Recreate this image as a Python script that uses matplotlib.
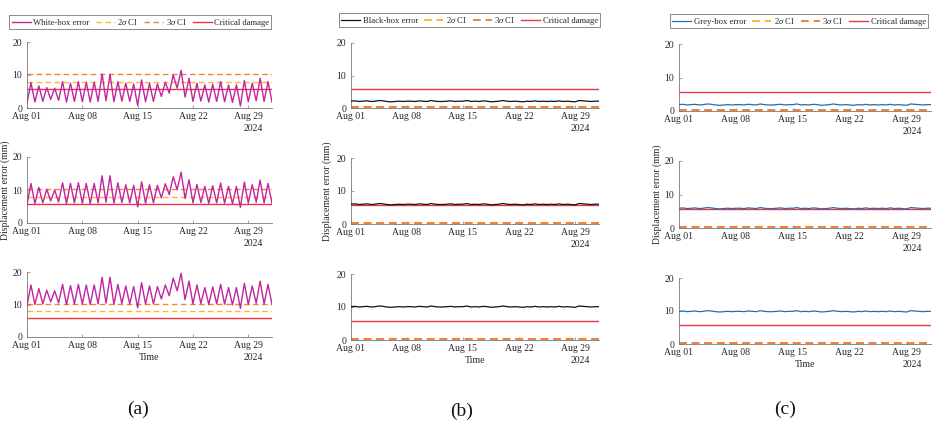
import numpy as np
import matplotlib
matplotlib.use("Agg")
import matplotlib.pyplot as plt
import matplotlib.dates as mdates

plt.rcParams['font.family'] = ['Liberation Serif', 'DejaVu Serif']
plt.rcParams['mathtext.fontset'] = 'custom'
plt.rcParams['mathtext.it'] = 'Liberation Serif:italic'
plt.rcParams['mathtext.rm'] = 'Liberation Serif'

# ---------------- data ----------------
start_date = "2024-08-01"
n_days = 31
tick_dates = ["2024-08-01", "2024-08-08", "2024-08-15", "2024-08-22", "2024-08-29"]
year_label = "2024"
panel_labels = ["(a)", "(b)", "(c)"]
model_names = ["White-box error", "Black-box error", "Grey-box error"]

critical_damage = 5.7
ci2_white, ci3_white = 8.0, 10.2
ci2_bg, ci3_bg = 0.25, 0.38

# White-box: daily troughs (00h) and peaks (12h) for the 3 rows
white_troughs = [
    [1.5, 1.8, 2.0, 2.6, 2.3, 1.8, 2.0, 1.9, 1.8, 2.0, 2.2, 1.9, 2.1, 2.0, 0.8, 1.9,
     2.0, 3.5, 4.5, 6.0, 3.3, 2.0, 2.1, 1.8, 2.0, 1.9, 1.7, 0.6, 1.9, 2.2, 2.0, 1.8],
    [5.6, 5.9, 6.1, 6.7, 6.4, 5.9, 6.1, 6.0, 5.9, 6.1, 6.3, 6.0, 6.2, 6.1, 4.9, 6.0,
     6.1, 7.6, 8.6, 10.1, 7.4, 6.1, 6.2, 5.9, 6.1, 6.0, 5.8, 4.7, 6.0, 6.3, 6.1, 5.9],
    [9.7, 10.0, 10.2, 10.8, 10.5, 10.0, 10.2, 10.1, 10.0, 10.2, 10.4, 10.1, 10.3, 10.2, 9.0, 10.1,
     10.2, 11.7, 12.7, 14.2, 11.5, 10.2, 10.3, 10.0, 10.2, 10.1, 9.9, 8.8, 10.1, 10.4, 10.2, 10.0],
]
white_peaks = [
    [7.7, 6.7, 6.2, 6.0, 8.0, 7.5, 8.0, 7.8, 7.8, 10.3, 10.2, 8.0, 7.5, 7.3, 8.5, 7.5,
     7.3, 7.8, 10.0, 11.4, 9.0, 7.5, 7.0, 7.2, 8.0, 7.0, 7.0, 8.3, 7.5, 9.0, 8.0],
    [12.0, 10.8, 10.2, 10.0, 12.2, 12.0, 12.2, 12.0, 12.0, 14.3, 14.3, 12.2, 11.6, 11.4, 12.5, 11.6,
     11.4, 11.9, 14.0, 15.4, 13.1, 11.7, 11.1, 11.3, 12.1, 11.1, 11.1, 12.4, 11.6, 13.0, 12.0],
    [16.0, 14.9, 14.4, 14.2, 16.2, 15.8, 16.2, 16.0, 16.0, 18.4, 18.4, 16.2, 15.7, 15.5, 16.7, 15.7,
     15.5, 16.0, 18.1, 19.6, 17.2, 16.0, 15.2, 15.4, 16.2, 15.2, 15.2, 16.5, 15.7, 17.2, 16.2],
]

# Black-box: twice-daily readings for the 3 rows
black_vals = [
    [2.1, 2.2, 2.0, 2.1, 2.2, 2.0, 2.1, 2.3, 2.2, 2.0, 1.9, 2.0, 2.1, 2.0, 2.1, 2.1,
     2.0, 2.2, 2.1, 2.0, 2.3, 2.1, 2.0, 2.0, 2.1, 2.2, 2.0, 2.1, 2.1, 2.3, 2.0, 2.1,
     2.0, 2.2, 2.1, 1.9, 2.0, 2.1, 2.3, 2.1, 2.0, 2.1, 2.0, 1.9, 2.1, 2.0, 2.2, 2.0,
     2.1, 2.0, 2.1, 2.0, 2.2, 2.0, 2.1, 2.0, 1.9, 2.3, 2.2, 2.1, 2.0, 2.1, 2.1],
    [6.0, 6.1, 5.9, 6.0, 6.1, 5.9, 6.0, 6.2, 6.1, 5.9, 5.8, 5.9, 6.0, 5.9, 6.0, 6.0,
     5.9, 6.1, 6.0, 5.9, 6.2, 6.0, 5.9, 5.9, 6.0, 6.1, 5.9, 6.0, 6.0, 6.2, 5.9, 6.0,
     5.9, 6.1, 6.0, 5.8, 5.9, 6.0, 6.2, 6.0, 5.9, 6.0, 5.9, 5.8, 6.0, 5.9, 6.1, 5.9,
     6.0, 5.9, 6.0, 5.9, 6.1, 5.9, 6.0, 5.9, 5.8, 6.2, 6.1, 6.0, 5.9, 6.0, 6.0],
    [10.1, 10.2, 10.0, 10.1, 10.2, 10.0, 10.1, 10.3, 10.2, 10.0, 9.9, 10.0, 10.1, 10.0, 10.1, 10.1,
     10.0, 10.2, 10.1, 10.0, 10.3, 10.1, 10.0, 10.0, 10.1, 10.2, 10.0, 10.1, 10.1, 10.3, 10.0, 10.1,
     10.0, 10.2, 10.1, 9.9, 10.0, 10.1, 10.3, 10.1, 10.0, 10.1, 10.0, 9.9, 10.1, 10.0, 10.2, 10.0,
     10.1, 10.0, 10.1, 10.0, 10.2, 10.0, 10.1, 10.0, 9.9, 10.3, 10.2, 10.1, 10.0, 10.1, 10.1],
]
# Grey-box: twice-daily readings for the 3 rows
grey_vals = [
    [1.9, 2.0, 1.8, 1.9, 2.0, 1.8, 1.9, 2.1, 2.0, 1.8, 1.7, 1.8, 1.9, 1.8, 1.9, 1.9,
     1.8, 2.0, 1.9, 1.8, 2.1, 1.9, 1.8, 1.8, 1.9, 2.0, 1.8, 1.9, 1.9, 2.1, 1.8, 1.9,
     1.8, 2.0, 1.9, 1.7, 1.8, 1.9, 2.1, 1.9, 1.8, 1.9, 1.8, 1.7, 1.9, 1.8, 2.0, 1.8,
     1.9, 1.8, 1.9, 1.8, 2.0, 1.8, 1.9, 1.8, 1.7, 2.1, 2.0, 1.9, 1.8, 1.9, 1.9],
    [5.9, 6.0, 5.8, 5.9, 6.0, 5.8, 5.9, 6.1, 6.0, 5.8, 5.7, 5.8, 5.9, 5.8, 5.9, 5.9,
     5.8, 6.0, 5.9, 5.8, 6.1, 5.9, 5.8, 5.8, 5.9, 6.0, 5.8, 5.9, 5.9, 6.1, 5.8, 5.9,
     5.8, 6.0, 5.9, 5.7, 5.8, 5.9, 6.1, 5.9, 5.8, 5.9, 5.8, 5.7, 5.9, 5.8, 6.0, 5.8,
     5.9, 5.8, 5.9, 5.8, 6.0, 5.8, 5.9, 5.8, 5.7, 6.1, 6.0, 5.9, 5.8, 5.9, 5.9],
    [9.9, 10.0, 9.8, 9.9, 10.0, 9.8, 9.9, 10.1, 10.0, 9.8, 9.7, 9.8, 9.9, 9.8, 9.9, 9.9,
     9.8, 10.0, 9.9, 9.8, 10.1, 9.9, 9.8, 9.8, 9.9, 10.0, 9.8, 9.9, 9.9, 10.1, 9.8, 9.9,
     9.8, 10.0, 9.9, 9.7, 9.8, 9.9, 10.1, 9.9, 9.8, 9.9, 9.8, 9.7, 9.9, 9.8, 10.0, 9.8,
     9.9, 9.8, 9.9, 9.8, 10.0, 9.8, 9.9, 9.8, 9.7, 10.1, 10.0, 9.9, 9.8, 9.9, 9.9],
]

# ---------------- styles ----------------
C_WHITE = '#C0269E'
C_BLACK = '#111111'
C_GREY = '#1f6fb4'
C_CI2 = '#FFB52E'
C_CI3 = '#F0823A'
C_CRIT = '#EE3344'
AX_COL = '#777777'
TXT_COL = '#262626'


def times_for(n):
    t0 = np.datetime64(start_date + "T00:00")
    mins = np.round(np.linspace(0, n_days * 24 * 60, n)).astype('int64')
    return t0 + mins.astype('timedelta64[m]')


def interleave(tr, pk):
    v = np.empty(len(tr) + len(pk))
    v[0::2] = tr
    v[1::2] = pk
    return v


W, H = 941, 432
fig = plt.figure(figsize=(W / 100, H / 100), dpi=100)

# axes boxes in pixels: (left, right, [(top, bottom) per row])
col_px = [
    (27, 272, [(42, 108), (157, 223), (272, 337)]),
    (351, 599, [(43, 108), (158, 224), (274, 340)]),
    (679, 931, [(44, 111), (161, 228), (278, 344)]),
]
legend_anchor = [(0.463, 1.19), (0.478, 1.24), (0.476, 1.24)]
ylabel_x = [-0.07, -0.077, -0.067]
panel_label_xy = [(138, 409), (462, 411), (785, 409)]

xmin = np.datetime64(start_date + "T00:00")
xmax = xmin + np.timedelta64(n_days, 'D')
ticks = [np.datetime64(d + "T00:00") for d in tick_dates]

for c, (l, r, rows) in enumerate(col_px):
    for ri, (top, bot) in enumerate(rows):
        ax = fig.add_axes([l / W, 1 - bot / H, (r - l) / W, (bot - top) / H])
        if c == 0:
            y = interleave(white_troughs[ri], white_peaks[ri])
            col, lw = C_WHITE, 1.0
            ci2, ci3 = ci2_white, ci3_white
        elif c == 1:
            y = np.array(black_vals[ri])
            col, lw = C_BLACK, 0.9
            ci2, ci3 = ci2_bg, ci3_bg
        else:
            y = np.array(grey_vals[ri])
            col, lw = C_GREY, 0.9
            ci2, ci3 = ci2_bg, ci3_bg
        t = times_for(len(y))
        ax.plot(t, y, color=col, lw=lw, label=model_names[c], zorder=3)
        dlw = 1.0 if c == 0 else 1.4
        ax.axhline(ci2, color=C_CI2, lw=dlw, dashes=(4, 2.5), label=r'2$\sigma$ CI', zorder=2)
        ax.axhline(ci3, color=C_CI3, lw=dlw, dashes=(4, 2.5), label=r'3$\sigma$ CI', zorder=2)
        ax.axhline(critical_damage, color=C_CRIT, lw=1.0, label='Critical damage', zorder=2.5)

        ax.set_xlim(xmin, xmax)
        ax.set_ylim(0, 20)
        ax.set_yticks([0, 10, 20])
        ax.set_xticks(ticks)
        ax.xaxis.set_major_formatter(mdates.DateFormatter('%b %d'))
        for s in ['top', 'right']:
            ax.spines[s].set_visible(False)
        for s in ['left', 'bottom']:
            ax.spines[s].set_color(AX_COL)
            ax.spines[s].set_linewidth(0.6)
        ax.tick_params(direction='in', length=2, width=0.5, color=AX_COL,
                       labelsize=7, labelcolor=TXT_COL)
        ax.tick_params(axis='x', pad=3)
        ax.tick_params(axis='y', pad=3.5)
        ax.annotate(year_label, xy=(0.965, 0), xycoords='axes fraction',
                    xytext=(0, -15), textcoords='offset points',
                    ha='right', va='center', fontsize=7, color=TXT_COL)
        if ri == 0:
            leg = ax.legend(loc='lower center', bbox_to_anchor=legend_anchor[c], ncol=4,
                            fontsize=6.2, frameon=True, fancybox=False, handlelength=2.2,
                            handletextpad=0.3, columnspacing=0.7, borderpad=0.25,
                            borderaxespad=0)
            leg.get_frame().set_edgecolor('#555555')
            leg.get_frame().set_linewidth(0.6)
            for txt in leg.get_texts():
                txt.set_color(TXT_COL)
        if ri == 1:
            ax.set_ylabel('Displacement error (mm)', fontsize=7, color=TXT_COL)
            ax.yaxis.set_label_coords(ylabel_x[c], 0.5)
        if ri == 2:
            ax.annotate('Time', xy=(0.5, 0), xycoords='axes fraction',
                        xytext=(0, -15), textcoords='offset points',
                        ha='center', va='center', fontsize=7.2, color=TXT_COL)

for lab, (px, py) in zip(panel_labels, panel_label_xy):
    fig.text(px / W, 1 - py / H, lab, ha='center', va='center', fontsize=14, color='#111111')

fig.savefig('out.png', dpi=100)
